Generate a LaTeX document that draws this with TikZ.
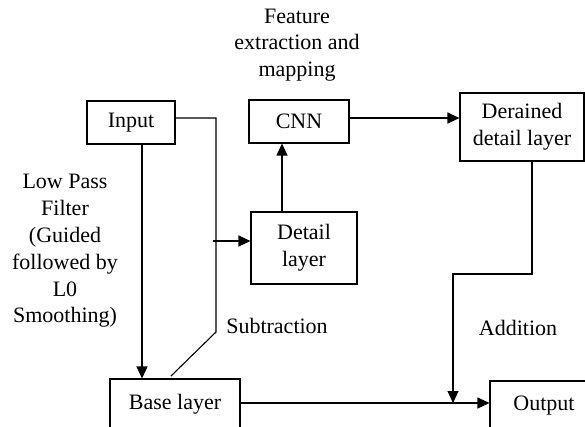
\documentclass[tikz,border=0pt]{standalone}
\usepackage{fontspec}
\setmainfont{Liberation Serif}
\usetikzlibrary{arrows.meta,calc}
\begin{document}
\begin{tikzpicture}[x=1pt,y=-1pt,
 box/.style={draw,line width=1.1pt,inner sep=0pt,align=center,font=\fontsize{22}{26.8}\selectfont},
 lbl/.style={inner sep=0pt,align=center,font=\fontsize{22}{26.8}\selectfont},
 ln/.style={line width=1.1pt},
 arr/.style={ln,-{Triangle[length=12pt,width=11pt]}}]
\useasboundingbox (0,0) rectangle (585,426);
\clip (0,0) rectangle (585,426);
\node[box,minimum width=88pt,minimum height=43pt] (input) at (131,122.5) {Input};
\node[box,minimum width=100pt,minimum height=43pt] (cnn) at (299,121.5) {CNN};
\node[box,minimum width=106pt,minimum height=72pt] (detail) at (304,248) {Detail\\layer};
\node[box,minimum width=124pt,minimum height=68pt] (der) at (522,127) {Derained\\detail layer};
\node[box,minimum width=130pt,minimum height=50pt] (base) at (175,404) {Base layer};
\node[box,minimum width=108pt,minimum height=50pt] (out) at (544,406) {Output};
\node[lbl] (feat) at (297,45) {Feature\\extraction and\\mapping};
\node[lbl] (lpf) at (65,251) {Low Pass\\Filter\\(Guided\\followed by\\L0\\Smoothing)};
\node[lbl] (sub) at (277,326) {Subtraction};
\node[lbl] (add) at (518,328) {Addition};
% input to base
\draw[arr] ([xshift=11pt]input.south) -- ([xshift=11pt]input.south |- base.north);
% input to subtraction junction
\coordinate (s1) at (216,118);
\coordinate (s2) at (216,332);
\coordinate (s3) at (171,376);
\draw[ln] ([yshift=4.5pt]input.east) -- (s1) -- (s2) -- (s3);
% subtraction to detail
\coordinate (d0) at (213,241);
\draw[arr] (d0) -- (d0 -| detail.west);
% detail to cnn
\draw[arr] ([xshift=-22pt]detail.north) -- ([xshift=-22pt]detail.north |- cnn.south);
% cnn to derained
\coordinate (c0) at (349,118);
\draw[arr] (c0) -- (c0 -| der.west);
% derained to addition
\coordinate (a1) at (532,274);
\coordinate (a2) at (453,274);
\coordinate (a3) at (453,403);
\draw[arr] ([xshift=10pt]der.south) -- (a1) -- (a2) -- (a3);
% base to output
\draw[arr] (base.east |- a3) -- (a3 -| out.west);
\end{tikzpicture}
\end{document}
